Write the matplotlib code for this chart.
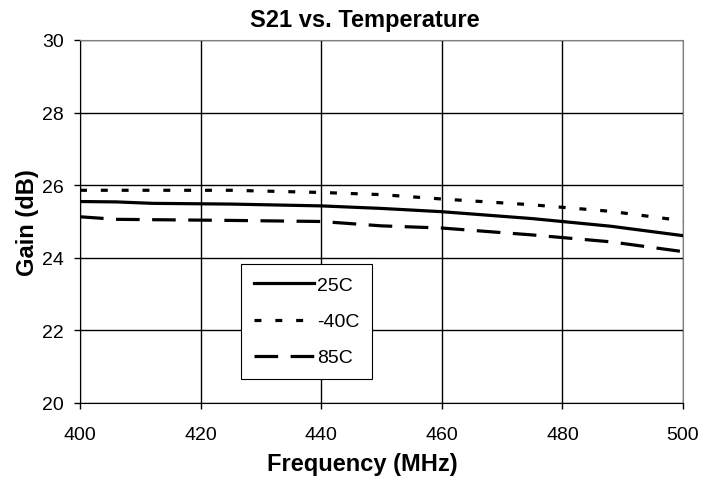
import matplotlib
matplotlib.use("Agg")
import matplotlib.pyplot as plt

plt.rcParams['font.family'] = ['Liberation Sans', 'DejaVu Sans']
plt.rcParams['lines.scale_dashes'] = False

# values
freq_mhz = [400, 406, 412, 425, 440, 450, 460, 475, 488, 500]
gain_25c = [25.55, 25.54, 25.50, 25.48, 25.43, 25.36, 25.27, 25.08, 24.87, 24.61]
gain_m40c = [25.86, 25.86, 25.86, 25.86, 25.80, 25.74, 25.62, 25.46, 25.28, 25.02]
gain_85c = [25.13, 25.06, 25.05, 25.03, 25.00, 24.88, 24.82, 24.63, 24.44, 24.17]

x_ticks = [400, 420, 440, 460, 480, 500]
y_ticks = [20, 22, 24, 26, 28, 30]

fig = plt.figure(figsize=(7.01, 4.85), dpi=100)
ax = fig.add_axes([80 / 701, 1 - 404 / 485, (683 - 80) / 701, (404 - 41) / 485])

ax.plot(freq_mhz, gain_25c, color='black', lw=2.3, label='25C')
ax.plot(freq_mhz, gain_m40c, color='black', lw=2.3, dashes=(5.0, 10.0), label='-40C')
ax.plot(freq_mhz, gain_85c, color='black', lw=2.3, dashes=(17.0, 9.0), label='85C')

ax.set_xlim(400, 500)
ax.set_ylim(20, 30)
ax.set_xticks(x_ticks)
ax.set_yticks(y_ticks)
ax.grid(True, color='black', lw=1.0)
ax.tick_params(direction='out', length=4.5, width=1, labelsize=14, pad=12)
ax.tick_params(axis='y', pad=7)

for side in ['left', 'bottom']:
    ax.spines[side].set_color('black')
for side in ['top', 'right']:
    ax.spines[side].set_color('#808080')

# chart title sits centred on the whole chart, not the plot area
fig.text(365 / 701, 1 - 27 / 485, 'S21 vs. Temperature', fontsize=17, fontweight='bold',
         ha='center', va='baseline')
ax.set_xlabel('Frequency (MHz)', fontsize=17, fontweight='bold')
ax.xaxis.set_label_coords(0.468, -0.136)
ax.set_ylabel('Gain (dB)', fontsize=17, fontweight='bold', labelpad=2)

leg = ax.legend(loc='upper left', bbox_to_anchor=(241 / 701, 1 - 265 / 485),
                bbox_transform=fig.transFigure, borderaxespad=0, fancybox=False,
                edgecolor='black', framealpha=1, fontsize=14, handlelength=3.1,
                handletextpad=0.15, labelspacing=0.95, borderpad=0.65)
leg.get_frame().set_linewidth(0.8)

fig.savefig('out.png', dpi=100)
